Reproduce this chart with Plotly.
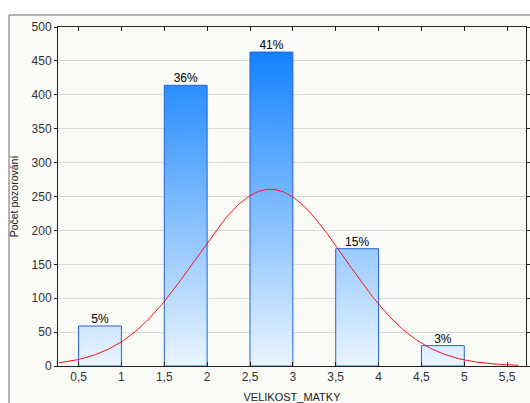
import numpy as np
import plotly.graph_objects as go

# ---- data ----
values = [1, 2, 3, 4, 5]                 # VELIKOST_MATKY categories
counts = [59, 414, 463, 173, 30]         # Počet pozorování
pct_labels = ["5%", "36%", "41%", "15%", "3%"]
bar_width = 0.5
x_ticks = [0.5, 1, 1.5, 2, 2.5, 3, 3.5, 4, 4.5, 5, 5.5]
x_tick_text = ["0,5", "1", "1,5", "2", "2,5", "3", "3,5", "4", "4,5", "5", "5,5"]
y_ticks = [0, 50, 100, 150, 200, 250, 300, 350, 400, 450, 500]

# ---- derived quantities ----
vals = np.array(values, dtype=float)
cnt = np.array(counts, dtype=float)
N = cnt.sum()
mean = (vals * cnt).sum() / N
sd = np.sqrt(((vals - mean) ** 2 * cnt).sum() / N)

fig = go.Figure()

# bars as gradient-filled polygons (gradient tied to absolute y)
bx, by = [], []
for v, c in zip(values, counts):
    lo, hi = v - bar_width, v
    bx += [lo, lo, hi, hi, lo, None]
    by += [0, c, c, 0, 0, None]
fig.add_trace(go.Scatter(
    x=bx, y=by, mode="lines", fill="toself",
    line=dict(color="#2563d6", width=1),
    fillgradient=dict(type="vertical",
                      colorscale=[[0, "#eaf5ff"], [1, "#1382ff"]],
                      start=0, stop=max(counts)),
    hoverinfo="skip", showlegend=False))

# fitted normal curve
xc = np.linspace(0.27, 5.63, 300)
yc = N * bar_width / (sd * np.sqrt(2 * np.pi)) * np.exp(-0.5 * ((xc - mean) / sd) ** 2)
fig.add_trace(go.Scatter(x=xc, y=yc, mode="lines",
                         line=dict(color="#ff1010", width=1),
                         hoverinfo="skip", showlegend=False))

# percentage labels
fig.add_trace(go.Scatter(
    x=[v - bar_width / 2 for v in values], y=counts, mode="text",
    text=pct_labels, textposition="top center",
    textfont=dict(family="Liberation Sans, Arial", size=12, color="#000"),
    hoverinfo="skip", showlegend=False))

L, R, T, B = 58, 4, 27, 37
W, H = 530, 403
pw, ph = W - L - R, H - T - B

fig.update_layout(
    width=W, height=H,
    margin=dict(l=L, r=R, t=T, b=B, autoexpand=False),
    paper_bgcolor="white",
    plot_bgcolor="#f7fcfd",
    font=dict(family="Liberation Sans, Arial", size=12, color="#222"),
    xaxis=dict(range=[0.26, 5.72], tickmode="array", tickvals=x_ticks,
               ticktext=x_tick_text, ticks="inside", ticklen=4,
               tickcolor="#222", showline=True, linecolor="#222",
               linewidth=1, mirror="ticks", showgrid=False, zeroline=False,
               automargin=False,
               tickfont=dict(size=12, color="#333"),
               title=dict(text="VELIKOST_MATKY", standoff=9,
                          font=dict(size=11, color="#222"))),
    yaxis=dict(range=[0, 500], tickmode="array", tickvals=y_ticks,
               ticks="outside", ticklen=3, tickcolor="#222",
               showline=True, linecolor="#222", linewidth=1,
               mirror="ticks", showgrid=True, gridcolor="#d8dbe0",
               gridwidth=1, zeroline=False, automargin=False,
               tickfont=dict(size=12, color="#333"),
               title=dict(text="Počet pozorování", standoff=10,
                          font=dict(size=10.5, color="#222"))),
    shapes=[dict(type="rect", xref="paper", yref="paper",
                 x0=(9 - L) / pw, x1=1.5, y0=-0.5,
                 y1=(H - B - 15) / ph,
                 line=dict(color="#6a6a6a", width=1),
                 fillcolor="#fafaf7", layer="below")],
)

fig.write_html("out.html")
